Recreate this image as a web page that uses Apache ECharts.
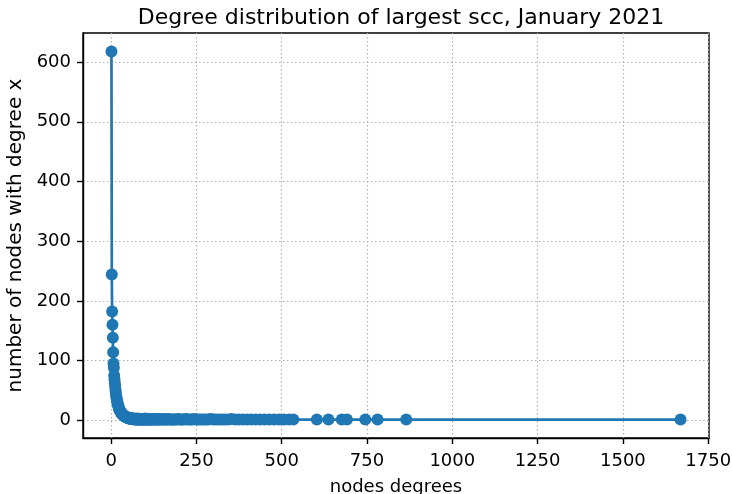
<!DOCTYPE html>
<html>
<head>
<meta charset="utf-8">
<script src="https://cdn.jsdelivr.net/npm/echarts@6/dist/echarts.min.js"></script>
<style>
html,body{margin:0;padding:0;background:#fff;}
#chart{width:732px;height:494px;}
</style>
</head>
<body>
<div id="chart"></div>
<script>
var titleText = 'Degree distribution of largest scc, January 2021';
var xName = 'nodes degrees';
var yName = 'number of nodes with degree x';
var xTicks = [0, 250, 500, 750, 1000, 1250, 1500, 1750];
var yTicks = [0, 100, 200, 300, 400, 500, 600];

var degrees = [
  1,2,3,4,5,6,7,8,9,10,11,12,13,14,15,16,17,18,19,20,
  21,22,23,24,25,26,27,28,29,30,31,32,33,34,35,36,37,38,39,40,
  41,42,43,44,45,46,47,48,49,50,51,52,53,54,55,56,57,58,59,60,
  61,62,63,64,65,66,67,68,69,70,71,72,73,74,75,76,77,78,79,80,
  81,82,83,84,85,86,87,88,89,90,
  92,93,94,95,96,98,99,100,102,103,
  105,106,108,109,111,113,114,116,118,120,
  121,123,125,127,129,131,133,136,138,140,
  143,145,148,151,153,156,159,162,165,168,171,175,178,182,185,
  189,193,197,201,205,210,214,219,223,228,233,238,243,249,254,260,266,272,278,285,292,299,
  307,315,324,333,343,353,364,375,387,399,411,424,437,450,464,478,492,507,522,534,
  603,637,676,691,745,781,865,1669
];
var counts = [
  618,244,182,160,138,114,95,88,75,68,62,56,50,45,41,37,34,31,28,26,
  24,22,20,18,17,16,15,14,13,12,11,10,10,9,9,8,8,7,7,6,
  6,6,5,5,5,5,4,4,4,4,4,3,3,3,4,3,3,3,2,3,
  2,3,2,2,3,2,1,2,2,3,1,2,2,1,2,2,1,3,1,2,
  2,1,2,1,2,1,1,2,1,2,
  1,2,1,1,2,1,1,3,1,1,
  2,1,1,2,1,1,2,1,1,2,
  1,1,2,1,1,1,2,1,1,1,
  2,1,1,1,2,1,1,1,1,2,1,1,1,1,1,
  1,1,2,1,1,1,1,2,1,1,1,1,2,1,1,1,1,1,1,1,2,1,
  1,1,1,1,1,2,1,1,1,1,1,1,1,1,1,1,1,1,1,1,
  1,1,1,1,1,1,1,1
];

var points = degrees.map(function (d, i) { return [d, counts[i]]; });

var xmin = Math.min.apply(null, degrees), xmax = Math.max.apply(null, degrees);
var ymin = Math.min.apply(null, counts), ymax = Math.max.apply(null, counts);
var xm = (xmax - xmin) * 0.05, ym = (ymax - ymin) * 0.05;

var FONT = 'DejaVu Sans';
var gridLine = { show: true, lineStyle: { color: '#b0b0b0', width: 1.2, type: [1.5, 2.5] } };
var plain = function (v) { return String(v); };

var chart = echarts.init(document.getElementById('chart'), null, { renderer: 'canvas' });
chart.setOption({
  animation: false,
  backgroundColor: '#ffffff',
  title: {
    text: titleText, left: 396, top: 2, textAlign: 'center',
    textStyle: { fontFamily: FONT, fontSize: 22, fontWeight: 'normal', color: '#000' }
  },
  grid: {
    left: 83, top: 33, width: 626, height: 405,
    containLabel: false, outerBoundsMode: 'none',
    show: true, borderColor: '#000', borderWidth: 1.4, backgroundColor: 'transparent'
  },
  xAxis: {
    type: 'value', min: xmin - xm, max: xmax + xm,
    name: xName, nameLocation: 'middle', nameGap: 40,
    nameTextStyle: { fontFamily: FONT, fontSize: 18, color: '#000' },
    axisLine: { show: true, onZero: false, lineStyle: { color: '#000', width: 1.4 } },
    axisTick: { show: true, inside: false, length: 6, customValues: xTicks, lineStyle: { color: '#000', width: 1.4 } },
    axisLabel: { customValues: xTicks, formatter: plain, margin: 14, fontFamily: FONT, fontSize: 18, color: '#000' },
    splitLine: gridLine
  },
  yAxis: {
    type: 'value', min: ymin - ym, max: ymax + ym,
    name: yName, nameLocation: 'middle', nameGap: 55,
    nameTextStyle: { fontFamily: FONT, fontSize: 20, color: '#000' },
    axisLine: { show: true, onZero: false, lineStyle: { color: '#000', width: 1.4 } },
    axisTick: { show: true, inside: false, length: 6, customValues: yTicks, lineStyle: { color: '#000', width: 1.4 } },
    axisLabel: { customValues: yTicks, formatter: plain, margin: 12, fontFamily: FONT, fontSize: 18, color: '#000' },
    splitLine: gridLine
  },
  series: [{
    type: 'line',
    data: points,
    symbol: 'circle',
    symbolSize: 12,
    showSymbol: true,
    showAllSymbol: true,
    clip: true,
    itemStyle: { color: '#1f77b4' },
    lineStyle: { color: '#1f77b4', width: 2.7 },
    emphasis: { disabled: true }
  }]
});
</script>
</body>
</html>
